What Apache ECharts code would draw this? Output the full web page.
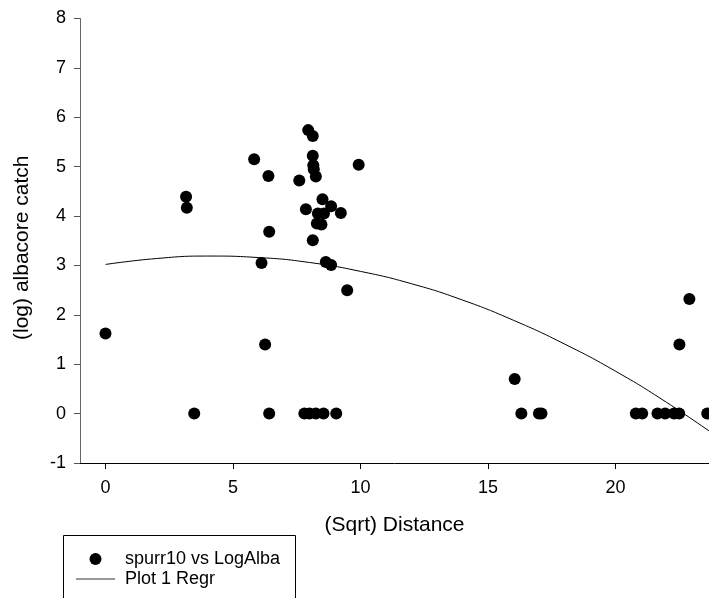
<!DOCTYPE html>
<html>
<head>
<meta charset="utf-8">
<script src="https://cdn.jsdelivr.net/npm/echarts@6/dist/echarts.min.js"></script>
<style>
html,body{margin:0;padding:0;background:#fff;}
#chart{width:709px;height:598px;}
</style>
</head>
<body>
<div id="chart"></div>
<script>
// Scatter: (sqrt) distance vs (log) albacore catch
const scatterX = [0, 3.16, 3.19, 3.48, 5.83, 6.39, 6.42, 6.12, 6.26, 6.42,
  7.95, 8.13, 8.13, 8.15, 8.17, 8.25, 7.6, 9.93, 8.51, 7.86, 8.85, 9.23, 8.33, 8.57,
  8.29, 8.47, 8.13, 8.64, 8.85, 9.48,
  7.8, 8.0, 8.25, 8.55, 9.05,
  16.05, 16.31, 17.0, 17.1,
  20.8, 21.05, 21.65, 21.95, 22.3, 22.5, 23.6,
  22.51, 22.9];
const scatterY = [1.62, 4.39, 4.17, 0, 5.15, 4.81, 3.68, 3.05, 1.40, 0,
  5.74, 5.62, 5.22, 5.03, 4.95, 4.8, 4.72, 5.04, 4.34, 4.14, 4.2, 4.06, 4.05, 4.05,
  3.85, 3.83, 3.51, 3.07, 3.01, 2.50,
  0, 0, 0, 0, 0,
  0.70, 0, 0, 0,
  0, 0, 0, 0, 0, 0, 0,
  1.40, 2.32];
// Regression curve
const regrX = [0, 2, 4, 6, 8, 10, 12, 14, 16, 18, 20, 22, 24];
const regrY = [3.02, 3.14, 3.19, 3.16, 3.06, 2.88, 2.63, 2.30, 1.89, 1.41, 0.86, 0.23, -0.47];
const xTicks = [0, 5, 10, 15, 20];
const seriesNames = ['spurr10 vs LogAlba', 'Plot 1 Regr'];

const font = 'Liberation Sans, Arial, sans-serif';
const lineIcon = 'path://M0,0H0.01V0.01H0Z M0,5.5H39V6.5H0Z M38.99,11.99H39V12H38.99Z';
const chart = echarts.init(document.getElementById('chart'), null, {renderer: 'canvas'});
chart.setOption({
  animation: false,
  backgroundColor: '#fff',
  textStyle: {fontFamily: font},
  grid: {left: 80, right: 0, top: 18.5, bottom: 135, containLabel: false},
  legend: {
    orient: 'vertical',
    left: 76, top: 550,
    padding: 0,
    itemGap: 2,
    itemWidth: 39, itemHeight: 12,
    textStyle: {fontFamily: font, fontSize: 18, color: '#000', lineHeight: 18, padding: [0, 0, 0, 5]},
    data: [
      {name: seriesNames[0], icon: 'circle', itemStyle: {color: '#000'}},
      {name: seriesNames[1], icon: lineIcon, itemStyle: {color: '#333'}}
    ]
  },
  graphic: [{
    type: 'rect', z: 0,
    shape: {x: 63.5, y: 535.5, width: 232, height: 100},
    style: {fill: 'none', stroke: '#000', lineWidth: 1}
  }],
  xAxis: {
    type: 'value', min: -1, max: 23.67,
    name: '(Sqrt) Distance', nameLocation: 'middle', nameGap: 52,
    nameTextStyle: {fontFamily: font, fontSize: 21, color: '#000'},
    axisLine: {onZero: false, lineStyle: {color: '#000', width: 1}},
    axisTick: {show: true, inside: false, length: 6, customValues: xTicks, lineStyle: {color: '#000'}},
    axisLabel: {customValues: xTicks, fontFamily: font, fontSize: 18, color: '#000', margin: 16},
    splitLine: {show: false}
  },
  yAxis: {
    type: 'value', min: -1, max: 8, interval: 1,
    name: '(log) albacore catch', nameLocation: 'middle', nameGap: 47, nameRotate: 90,
    nameTextStyle: {fontFamily: font, fontSize: 21, color: '#000', padding: [0, 14, 0, 0]},
    axisLine: {show: true, onZero: false, lineStyle: {color: '#666', width: 1}},
    axisTick: {show: true, inside: false, length: 6, lineStyle: {color: '#555'}},
    axisLabel: {fontFamily: font, fontSize: 18, color: '#000', margin: 14},
    splitLine: {show: false}
  },
  series: [
    {
      name: seriesNames[0], type: 'scatter',
      symbol: 'circle', symbolSize: 12,
      itemStyle: {color: '#000', opacity: 1},
      data: scatterX.map((x, i) => [x, scatterY[i]]),
      clip: true, z: 3
    },
    {
      name: seriesNames[1], type: 'line',
      smooth: true, symbol: 'none', showSymbol: false,
      lineStyle: {color: '#000', width: 1},
      itemStyle: {color: '#000'},
      data: regrX.map((x, i) => [x, regrY[i]]),
      clip: true, z: 2
    }
  ]
});
</script>
</body>
</html>
